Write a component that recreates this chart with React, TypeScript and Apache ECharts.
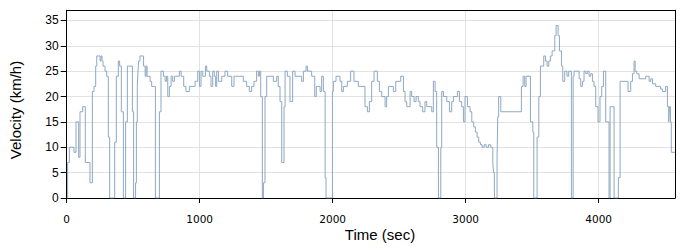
import React, { useEffect, useRef } from "react";
import * as echarts from "echarts";

// Change points: [time (sec), velocity (km/h)] — value holds until next point
const velocitySteps: [number, number][] = [
  [0, 0], [7, 7], [20, 10], [55, 9], [70, 15], [90, 8], [100, 17], [120, 18], [140, 7], [175, 3],
  [193, 21], [205, 22], [218, 26], [226, 28], [251, 27], [258, 28], [266, 27], [273, 26], [288, 25],
  [301, 24], [313, 12], [323, 0], [361, 11], [373, 24], [388, 27], [398, 26], [411, 17], [426, 0],
  [443, 15], [456, 26], [494, 17], [503, 0], [518, 3], [524, 15], [531, 22], [536, 25], [541, 27],
  [551, 28], [578, 26], [590, 24], [597, 26], [604, 24], [627, 23], [639, 22], [667, 0], [697, 17],
  [709, 25], [727, 24], [740, 23], [750, 24], [760, 20], [772, 22], [785, 24], [797, 23], [810, 24],
  [847, 25], [860, 24], [880, 22], [897, 21], [922, 22], [965, 23], [985, 25], [998, 22], [1010, 25],
  [1023, 24], [1043, 26], [1053, 25], [1073, 24], [1085, 22], [1098, 25], [1110, 24], [1120, 22],
  [1128, 25], [1141, 23], [1166, 24], [1190, 25], [1210, 24], [1241, 22], [1258, 24], [1328, 23],
  [1353, 22], [1373, 21], [1391, 22], [1408, 23], [1428, 25], [1441, 24], [1449, 25], [1459, 20],
  [1471, 0], [1479, 3], [1491, 20], [1504, 24], [1554, 23], [1579, 24], [1591, 22], [1604, 19],
  [1617, 7], [1634, 18], [1642, 25], [1659, 24], [1679, 19], [1699, 25], [1717, 24], [1767, 23],
  [1780, 25], [1800, 26], [1810, 25], [1842, 24], [1865, 20], [1877, 22], [1905, 21], [1917, 24],
  [1930, 21], [1943, 4], [1950, 0], [1998, 21], [2005, 23], [2025, 24], [2055, 23], [2068, 21],
  [2080, 22], [2110, 23], [2135, 25], [2160, 23], [2193, 22], [2243, 18], [2261, 17], [2276, 19],
  [2293, 23], [2311, 25], [2336, 23], [2351, 21], [2369, 20], [2394, 18], [2406, 20], [2419, 22],
  [2456, 21], [2474, 23], [2512, 24], [2532, 21], [2544, 19], [2557, 18], [2582, 21], [2594, 20],
  [2612, 19], [2627, 20], [2644, 19], [2657, 18], [2677, 17], [2694, 19], [2707, 18], [2745, 17],
  [2757, 23], [2770, 21], [2782, 10], [2795, 0], [2813, 10], [2820, 21], [2833, 20], [2858, 19],
  [2878, 17], [2895, 19], [2908, 20], [2938, 21], [2953, 19], [2970, 18], [2983, 15], [2995, 20],
  [3013, 18], [3033, 17], [3046, 15], [3060, 14], [3073, 13], [3086, 12], [3098, 11], [3111, 10.5],
  [3123, 10], [3139, 10.5], [3154, 10], [3171, 10.5], [3189, 10], [3204, 7], [3209, 5], [3216, 0],
  [3236, 8], [3241, 16], [3248, 20], [3264, 17], [3419, 22], [3432, 24], [3444, 22], [3454, 24],
  [3487, 15], [3505, 13], [3512, 0], [3537, 12], [3550, 20], [3562, 26], [3587, 28], [3600, 27],
  [3612, 26], [3625, 27], [3637, 28], [3650, 29], [3670, 32], [3680, 34], [3695, 32], [3705, 29],
  [3720, 26], [3730, 23], [3745, 25], [3762, 24], [3775, 25], [3795, 0], [3808, 24], [3815, 25],
  [3853, 23.5], [3865, 22], [3878, 23], [3890, 25], [3903, 24.5], [3915, 25], [3928, 24],
  [3940, 24.5], [3953, 23], [3965, 22], [3978, 18], [3995, 15], [4010, 20], [4023, 22], [4036, 25],
  [4053, 15], [4078, 0], [4086, 18], [4116, 0], [4148, 4], [4161, 23], [4221, 21], [4241, 23],
  [4254, 24.5], [4266, 27], [4274, 25], [4286, 24.5], [4304, 23.5], [4354, 24], [4379, 23],
  [4392, 23.5], [4404, 22.5], [4429, 22], [4466, 21.5], [4479, 21], [4504, 22], [4517, 18],
  [4527, 15], [4532, 18], [4540, 15], [4546, 9], [4574, 9],
];

const xTicks = [0, 1000, 2000, 3000, 4000];
const yTicks = [0, 5, 10, 15, 20, 25, 30, 35];
const xTitle = "Time (sec)";
const yTitle = "Velocity (km/h)";
const X_MAX = 4574;
const Y_MAX = 37;

export default function App() {
  const ref = useRef<HTMLDivElement>(null);
  useEffect(() => {
    document.body.style.margin = "0";
    if (!ref.current) return;
    const chart = echarts.init(ref.current, undefined, { renderer: "svg" });
    const frameAxis = {
      type: "value",
      min: 0,
      interval: 1000,
      axisLine: { show: true, onZero: false, lineStyle: { color: "#000", width: 1 } },
      axisTick: { show: false },
      axisLabel: { show: false },
      splitLine: { show: false },
    };
    chart.setOption({
      animation: false,
      grid: {
        left: 66.7,
        right: 25,
        top: 10.3,
        bottom: 52,
      },
      xAxis: [
        {
          type: "value",
          min: 0,
          max: X_MAX,
          interval: 1000,
          axisLine: { show: true, onZero: false, lineStyle: { color: "#000", width: 1 } },
          axisTick: { show: true, length: 5, customValues: xTicks, lineStyle: { color: "#000" } },
          axisLabel: {
            customValues: xTicks,
            formatter: (v: number) => String(v),
            margin: 15,
            color: "#000",
            fontSize: 10.5,
            fontFamily: "DejaVu Sans",
          },
          splitLine: { show: true, lineStyle: { color: "#e2e2e2", width: 1 } },
        },
        { ...frameAxis, position: "top", max: X_MAX },
      ],
      yAxis: [
        {
          type: "value",
          min: 0,
          max: Y_MAX,
          interval: 5,
          axisLine: { show: true, onZero: false, lineStyle: { color: "#000", width: 1 } },
          axisTick: { show: true, length: 6, customValues: yTicks, lineStyle: { color: "#000" } },
          axisLabel: {
            customValues: yTicks,
            margin: 8,
            color: "#000",
            fontSize: 12,
            fontFamily: "Liberation Sans",
          },
          splitLine: { show: true, lineStyle: { color: "#e2e2e2", width: 1 } },
        },
        { ...frameAxis, position: "right", max: Y_MAX, interval: 5 },
      ],
      graphic: [
        {
          type: "text",
          x: 380,
          y: 234,
          style: {
            text: xTitle,
            font: "15px 'Liberation Sans'",
            fill: "#000",
            align: "center",
            verticalAlign: "middle",
          },
        },
        {
          type: "text",
          x: 15.5,
          y: 110,
          rotation: Math.PI / 2,
          style: {
            text: yTitle,
            font: "15px 'Liberation Sans'",
            fill: "#000",
            align: "center",
            verticalAlign: "middle",
          },
        },
      ],
      series: [
        {
          type: "line",
          step: "end",
          data: velocitySteps,
          showSymbol: false,
          symbol: "none",
          lineStyle: { color: "#8ea8c2", width: 1 },
        },
      ],
    });
    return () => chart.dispose();
  }, []);
  return <div ref={ref} style={{ width: 700, height: 250 }} />;
}
